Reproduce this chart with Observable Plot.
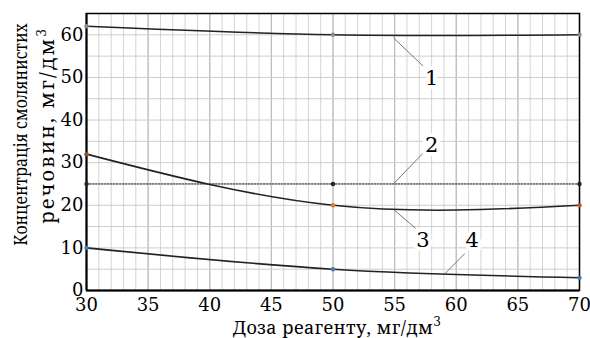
<!DOCTYPE html>
<html><head><meta charset="utf-8">
<script src="https://cdn.jsdelivr.net/npm/d3@7"></script>
<script src="https://cdn.jsdelivr.net/npm/@observablehq/plot@0.6"></script>
<style>body{margin:0;background:#fff}</style>
</head><body><div id="chart"></div>
<script>
const doses = [30, 50, 70];
const curve1 = [62, 60, 60];
const curve2 = [25, 25, 25];
const curve3 = [32, 20, 20];
const curve4 = [10, 5, 3];
const xTicks = [30, 35, 40, 45, 50, 55, 60, 65, 70];
const yTicks = [0, 10, 20, 30, 40, 50, 60];
const curveNames = ["1", "2", "3", "4"];
// label anchors (data units): label position, leader start, leader end
const labelX = [58, 58, 57.3, 61.3];
const labelY = [49.9, 34.1, 11.8, 11.8];
const leadX1 = [54.9, 54.9, 55, 59.1];
const leadY1 = [59.3, 25, 18.8, 4.0];
const leadX2 = [57.3, 57.3, 56.7, 60.7];
const leadY2 = [52.7, 32.2, 14.6, 8.7];

const FF = "'Noto Serif', 'DejaVu Serif', serif";
const FD = "'DejaVu Serif', serif";
const series = [curve1, curve2, curve3, curve4];
const rows = (vals) => doses.map((d, i) => ({x: d, y: vals[i]}));
const pointColors = [
  ["#8a8a8a", "#8a8a8a", "#8a8a8a"],
  ["#222", "#222", "#222"],
  ["#9b4a2a", "#e0783a", "#c9522a"],
  ["#4a78b0", "#4a78b0", "#4a78b0"]
];
const pts = series.flatMap((s, k) => doses.map((d, i) => ({x: d, y: s[i], c: pointColors[k][i]})));
const ann = curveNames.map((n, i) => ({n, x: labelX[i], y: labelY[i], x1: leadX1[i], y1: leadY1[i], x2: leadX2[i], y2: leadY2[i]}));

const chart = Plot.plot({
  width: 590, height: 338,
  marginLeft: 86, marginRight: 11, marginTop: 13, marginBottom: 48,
  style: {fontFamily: FD, fontSize: "18px", color: "#000", background: "#fff"},
  x: {domain: [30, 70], axis: null},
  y: {domain: [0, 65], axis: null},
  marks: [
    Plot.gridX(d3.range(30, 71, 1), {stroke: "#d4d4d4", strokeOpacity: 1, strokeWidth: 1}),
    Plot.gridX(xTicks, {stroke: "#bdbdbd", strokeOpacity: 1, strokeWidth: 1.2}),
    Plot.gridY(d3.range(0, 66, 5), {stroke: "#cdcdcd", strokeOpacity: 1, strokeWidth: 1}),
    Plot.line(rows(curve1), {x: "x", y: "y", curve: "natural", stroke: "#222", strokeWidth: 1.6}),
    Plot.line(rows(curve2), {x: "x", y: "y", stroke: "#222", strokeWidth: 1, strokeDasharray: "1.5,1.5"}),
    Plot.line(rows(curve3), {x: "x", y: "y", curve: "natural", stroke: "#222", strokeWidth: 1.6}),
    Plot.line(rows(curve4), {x: "x", y: "y", curve: "natural", stroke: "#222", strokeWidth: 1.6}),
    Plot.link(ann, {x1: "x1", y1: "y1", x2: "x2", y2: "y2", stroke: "#777", strokeWidth: 1}),
    Plot.text(ann, {x: "x", y: "y", text: "n", fontSize: 21, fill: "#000", stroke: "#fff", strokeWidth: 8}),
    Plot.frame({stroke: "#000", strokeWidth: 1.5}),
    Plot.ruleX([30], {stroke: "#000", strokeWidth: 2}),
    Plot.ruleY([0], {stroke: "#000", strokeWidth: 2}),
    Plot.dot(pts, {x: "x", y: "y", fill: "c", r: 2.2}),
    // tick labels through the scales
    Plot.text(xTicks, {x: (d) => d, text: (d) => String(d), frameAnchor: "bottom", lineAnchor: "top", dy: 8, fontSize: 18, fill: "#000"}),
    Plot.text(yTicks, {y: (d) => d, text: (d) => String(d), frameAnchor: "left", textAnchor: "end", dx: -3, fontSize: 18, fill: "#000"})
  ]
});
document.getElementById("chart").appendChild(chart);

const svg = d3.select(chart);
const g = svg.append("g").attr("font-size", 18).attr("fill", "#000").attr("text-anchor", "middle").style("font-family", FF);
function title(parts, target, place, fs) {
  const t = g.append("text").attr("x", 0).attr("y", 0).attr("font-size", fs).style("font-family", FF);
  t.append("tspan").text(parts[0]);
  if (parts[1]) t.append("tspan").attr("font-size", 12).attr("dy", -8).style("font-family", FD).text(parts[1]);
  const w = t.node().getBBox().width || target;
  const n = (parts[0] + (parts[1] || "")).length;
  if (w > target) {
    t.attr("transform", place + " scale(" + (target / w).toFixed(3) + ",1)");
  } else {
    t.attr("letter-spacing", ((target - w) / (n - 1)).toFixed(2));
    t.attr("transform", place);
  }
}
title(["Концентрація смолянистих"], 223, "translate(27,134.5) rotate(-90)", 18);
title(["речовин, мг/дм", "3"], 195, "translate(54,125.5) rotate(-90)", 20);
title(["Доза реагенту, мг/дм", "3"], 208, "translate(337,334)", 18);
</script>
</body></html>
